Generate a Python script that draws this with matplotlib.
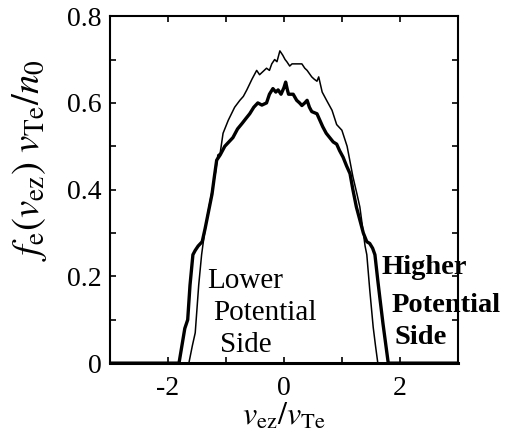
import matplotlib
matplotlib.use('Agg')
import matplotlib.pyplot as plt

plt.rcParams['font.family'] = 'Liberation Serif'
plt.rcParams['mathtext.fontset'] = 'stix'

# ── Data ────────────────────────────────────────────────────────────
thin_x = [-3.0, -1.64, -1.58, -1.53, -1.47, -1.42, -1.38, -1.32, -1.25, -1.18,
          -1.14, -1.10, -1.05, -0.96, -0.85, -0.76, -0.70, -0.64, -0.55, -0.47,
          -0.42, -0.38, -0.30, -0.25, -0.21, -0.16, -0.12, -0.07, -0.02, 0.02,
          0.05, 0.10, 0.14, 0.22, 0.31, 0.36, 0.40, 0.48, 0.52, 0.57,
          0.60, 0.66, 0.74, 0.83, 0.91, 1.00, 1.09, 1.19, 1.26, 1.31,
          1.36, 1.40, 1.43, 1.48, 1.54, 1.58, 1.62, 3.0]
thin_y = [0, 0, 0.04, 0.07, 0.18, 0.25, 0.29, 0.34, 0.39, 0.44,
          0.48, 0.484, 0.53, 0.56, 0.59, 0.606, 0.615, 0.63, 0.655, 0.675,
          0.665, 0.67, 0.68, 0.675, 0.69, 0.70, 0.695, 0.72, 0.71, 0.70,
          0.695, 0.685, 0.69, 0.69, 0.69, 0.68, 0.675, 0.66, 0.655, 0.65,
          0.66, 0.625, 0.605, 0.583, 0.55, 0.537, 0.50, 0.43, 0.39, 0.36,
          0.31, 0.27, 0.25, 0.17, 0.083, 0.04, 0, 0]

thick_x = [-3.0, -1.81, -1.76, -1.71, -1.66, -1.62, -1.57, -1.53, -1.48, -1.41,
           -1.36, -1.30, -1.24, -1.20, -1.16, -1.10, -1.02, -0.95, -0.88, -0.80,
           -0.72, -0.65, -0.59, -0.52, -0.45, -0.38, -0.30, -0.25, -0.19, -0.14,
           -0.10, -0.05, 0.0, 0.03, 0.06, 0.08, 0.16, 0.22, 0.27, 0.31,
           0.36, 0.40, 0.44, 0.48, 0.57, 0.62, 0.67, 0.73, 0.79, 0.85,
           0.91, 0.96, 1.02, 1.08, 1.14, 1.19, 1.25, 1.31, 1.37, 1.43,
           1.48, 1.53, 1.57, 1.62, 1.66, 1.71, 1.75, 1.80, 3.0]
thick_y = [0, 0, 0.04, 0.08, 0.10, 0.18, 0.25, 0.26, 0.27, 0.28,
           0.31, 0.35, 0.39, 0.43, 0.468, 0.48, 0.50, 0.51, 0.52, 0.54,
           0.553, 0.565, 0.575, 0.59, 0.60, 0.595, 0.60, 0.62, 0.633, 0.625,
           0.63, 0.62, 0.635, 0.648, 0.63, 0.62, 0.62, 0.606, 0.60, 0.594,
           0.60, 0.606, 0.59, 0.58, 0.575, 0.56, 0.545, 0.53, 0.52, 0.51,
           0.505, 0.49, 0.475, 0.455, 0.437, 0.40, 0.36, 0.33, 0.30, 0.28,
           0.276, 0.265, 0.25, 0.19, 0.145, 0.09, 0.05, 0, 0]

x_ticks = [-3, -2, -1, 0, 1, 2, 3]
x_labels = ['', '-2', '', '0', '', '2', '']
y_ticks = [0, 0.1, 0.2, 0.3, 0.4, 0.5, 0.6, 0.7, 0.8]
y_labels = ['0', '', '0.2', '', '0.4', '', '0.6', '', '0.8']

lower_lines = ['Lower', 'Potential', 'Side']
higher_lines = ['Higher', 'Potential', 'Side']

# ── Figure ───────────────────────────────────────────────────────────
fig = plt.figure(figsize=(5.07, 4.37), dpi=100)
ax = fig.add_axes([0.217, 0.169, 0.686, 0.794])

ax.plot(thin_x, thin_y, color='black', lw=1.1)
ax.plot(thick_x, thick_y, color='black', lw=2.4)

ax.set_xlim(-3, 3)
ax.set_ylim(0, 0.8)
ax.set_xticks(x_ticks)
ax.set_xticklabels(x_labels)
ax.set_yticks(y_ticks)
ax.set_yticklabels(y_labels)
ax.tick_params(direction='in', top=True, right=True, length=4.5, width=1.2,
               labelsize=20)
ax.tick_params(axis='x', pad=9)
ax.tick_params(axis='y', pad=6)
for s in ax.spines.values():
    s.set_linewidth(1.5)
ax.spines['bottom'].set_linewidth(2.2)

ax.set_xlabel(r'$v_{\rm ez}/v_{\rm Te}$', fontsize=23)
ax.xaxis.set_label_coords(0.5, -0.11)
ax.set_ylabel(r'$f_{\rm e}(v_{\rm ez})\ v_{\rm Te}/n_0$', fontsize=28)
ax.yaxis.set_label_coords(-0.175, 0.585)

# labels, one line each
for txt, x, y in zip(lower_lines, [-1.33, -1.22, -1.10], [0.19, 0.115, 0.041]):
    ax.text(x, y, txt, fontsize=21, va='center', ha='left')
for txt, x, y in zip(higher_lines, [1.69, 1.86, 1.91], [0.221, 0.134, 0.06]):
    ax.text(x, y, txt, fontsize=20.5, fontweight='bold', va='center', ha='left',
            clip_on=False)

fig.savefig('out.png', dpi=100)
